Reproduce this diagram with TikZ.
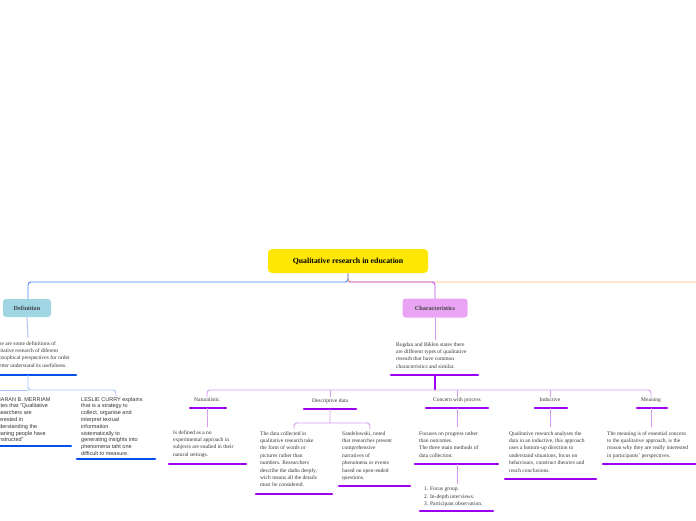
\documentclass[tikz,border=0pt]{standalone}
\usepackage{fontspec}
\setmainfont{Liberation Serif}
\setsansfont{Liberation Sans}
\begin{document}
\begin{tikzpicture}[x=1pt,y=-1pt,
  txt/.style={anchor=north west,inner sep=0pt,align=left,font=\fontsize{5.5}{7.4}\selectfont,text=black!80},
  stxt/.style={txt,font=\sffamily\fontsize{5.5}{6.8}\selectfont},
  lab/.style={inner sep=0pt,font=\fontsize{5.5}{7}\selectfont,text=black!80},
  pul/.style={line width=2.6pt,draw=pU,line cap=round},
  bul/.style={line width=2.6pt,draw=bU,line cap=round},
  pcon/.style={draw=pL,line width=0.9pt,rounded corners=3pt},
  bcon/.style={draw=bL,line width=0.9pt,rounded corners=3pt}]
\definecolor{pU}{HTML}{9B00F0}
\definecolor{bU}{HTML}{0050F0}
\definecolor{pL}{HTML}{D69AF5}
\definecolor{bL}{HTML}{A8C0F8}
\useasboundingbox (0,0) rectangle (696,520);
\clip (0,0) rectangle (696,520);
% main
\draw[draw=orange!60,line width=0.9pt,rounded corners=3pt] (348,273) -- (348,282) -- (700,282);
\draw[draw=bU!70,line width=0.9pt,rounded corners=3pt] (348,273) -- (348,282) -- (28,282) -- (28,300);
\draw[draw=pU!70,line width=0.9pt,rounded corners=3pt] (348,282) -- (435,282) -- (435,300);
\node[fill=yellow!90!orange,rounded corners=4pt,minimum width=160pt,minimum height=24pt,font=\bfseries\fontsize{7.8}{9}\selectfont] (title) at (348,261) {Qualitative research in education};
\node[fill={rgb,255:red,160;green,214;blue,228},rounded corners=3pt,minimum width=48pt,minimum height=18pt,font=\bfseries\fontsize{6.2}{7}\selectfont,text=black!75] (def) at (27,308) {Definition};
\node[fill={rgb,255:red,234;green,164;blue,244},rounded corners=3pt,minimum width=65pt,minimum height=19pt,font=\bfseries\fontsize{6.2}{7}\selectfont,text=black!75] (char) at (435,308) {Characteristics};
% Definition branch
\draw[bcon] (def.south) -- (28,338);
\node[txt,anchor=north east] (dtx) at (70,341) {These are some definitions of\\qualitative research of diferent\\philosophical prespectives for order\\to better understand its usefulness.};
\draw[bul] (-5,375) -- (76,375);
\draw[bcon] (28,375) -- (28,390) -- (116,390) -- (116,396);
\draw[bcon] (28,390) -- (-10,390);
\node[stxt] (mer) at (-7,397) {SHARAN B. MERRIAM\\states that "Qualitative\\researchers are\\interested in\\understanding the\\meaning people have\\constructed"};
\draw[bul] (-5,446) -- (71,446);
\node[stxt] (cur) at (81,397) {LESLIE CURRY explains\\that is a strategy to\\collect, organise and\\interpret textual\\information\\sistematically to\\generating insights into\\phenomena taht one\\difficult to measure.};
\draw[bul] (77,459) -- (155,459);
% Characteristics branch
\draw[pcon] (char.south) -- (435,340);
\node[txt] (bog) at (396,342) {Bogdan and Biklen states there\\are different types of qualitative\\researh that have common\\characteristics and similar.};
\draw[pul] (391,375) -- (478,375);
\draw[draw=pU,line width=1.2pt] (435,375) -- (435,390);
\draw[pcon] (207,397) -- (207,390) -- (651,390) -- (651,397);
\draw[pcon] (330,390) -- (330,397);
\draw[pcon] (457,390) -- (457,397);
\draw[pcon] (550,390) -- (550,397);
\node[lab] (nat) at (207,400) {Naturalistic};
\node[lab] (des) at (330,401) {Descriptive data};
\node[lab] (con) at (457,400) {Concern with process};
\node[lab] (ind) at (550,400) {Inductive};
\node[lab] (mea) at (651,400) {Meaning};
\draw[pul] (190,408) -- (226,408);
\draw[pul] (304,409) -- (356,409);
\draw[pul] (426,408) -- (488,408);
\draw[pul] (535,408) -- (567,408);
\draw[pul] (637,408) -- (667,408);
\draw[pcon] (207,408) -- (207,427);
\draw[pcon] (330,409) -- (330,423) (294,429) -- (294,423) -- (370,423) -- (370,429);
\draw[pcon] (457,408) -- (457,427);
\draw[pcon] (550,408) -- (550,427);
\draw[pcon] (651,408) -- (651,427);
\node[txt] (ntx) at (173,430) {Is defined as a no\\experimental approach in\\subjects are studied in their\\natural settings.};
\draw[pul] (169,464) -- (246,464);
\node[txt] (d1) at (260,431) {The data collected in\\qualitative research take\\the form of words or\\pictures rather than\\numbers. Researchers\\describe the dadta deeply,\\wich means all the details\\must be considered.};
\draw[pul] (256,494) -- (332,494);
\node[txt] (d2) at (342,431) {Sandelowski, noted\\that researches present\\comprehensive\\narratives of\\phenomena or events\\based on open-ended\\questions.};
\draw[pul] (339,486) -- (410,486);
\node[txt] (ctx) at (419,431) {Focuses on progress rather\\than outcomes.\\The three main methods of\\data collection:};
\draw[pul] (415,464) -- (498,464);
\draw[pcon] (457,464) -- (457,484);
\node[txt] (lst) at (424,487) {1. Focus group.\\2. In-depth interviews.\\3. Participant observation.};
\draw[pul] (420,511) -- (493,511);
\node[txt] (itx) at (509,431) {Qualitative research analyses the\\data in an inductive, this approach\\uses a bottom-up direction to\\understand situations, focus on\\behaviours, construct theories and\\reach conclusions.};
\draw[pul] (505,479) -- (596,479);
\node[txt] (mtx) at (607,431) {The meaning is of essential concern\\to the qualitative approach, is the\\reason why they are really interested\\in participants' perspectives.};
\draw[pul] (603,464) -- (700,464);
\end{tikzpicture}
\end{document}
